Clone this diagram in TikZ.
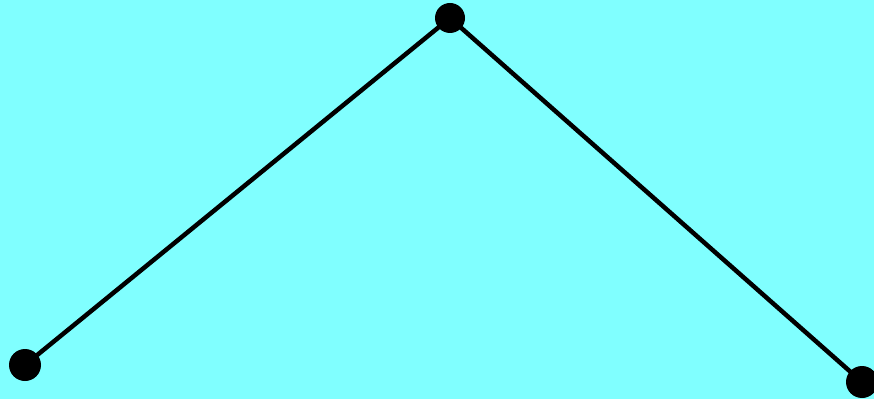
\documentclass[tikz,border=0pt]{standalone}
\definecolor{bg}{RGB}{128,255,255}
\tikzset{dot/.style={circle,fill=black,inner sep=0pt,minimum size=32pt},
  edge/.style={line width=4.5pt,black}}
\begin{document}
\begin{tikzpicture}[x=1pt,y=1pt]
\fill[bg] (0,0) rectangle (874,399);
\useasboundingbox (0,0) rectangle (874,399);
\node[dot] (a) at (25,34) {};
\node[dot,minimum size=30pt] (b) at (450,381) {};
\node[dot] (c) at (862,17) {};
\draw[edge] (a.center) -- (b.center) -- (c.center);
\end{tikzpicture}
\end{document}
